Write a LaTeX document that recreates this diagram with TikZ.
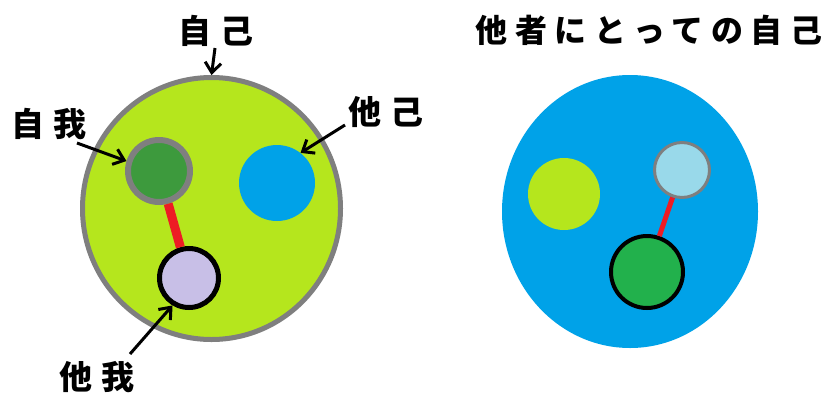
\documentclass[tikz,border=0pt]{standalone}
\usepackage{fontspec}
\newfontfamily\jpl{Noto Sans CJK JP}[LetterSpace=28]
\newfontfamily\jpt{Noto Sans CJK JP}[LetterSpace=24]
\usetikzlibrary{shapes.geometric,arrows.meta}
\definecolor{ygreen}{HTML}{B5E61D}
\definecolor{pgray}{HTML}{7F7F7F}
\definecolor{dgreen}{HTML}{3D9A3D}
\definecolor{pblue}{HTML}{00A2E8}
\definecolor{lav}{HTML}{C8BFE7}
\definecolor{lblue}{HTML}{99D9EA}
\definecolor{pgreen}{HTML}{22B14C}
\definecolor{pred}{HTML}{ED1C24}
\tikzset{
  lbl/.style={font=\jpl\bfseries\fontsize{33}{33}\selectfont, inner sep=0pt},
  ttl/.style={font=\jpt\bfseries\fontsize{32}{32}\selectfont, inner sep=0pt},
  dot/.style={circle, inner sep=0pt},
  pointer/.style={line width=3pt, -{Straight Barb[length=10pt,width=16pt,line width=3pt]}},
  link/.style={pred, line cap=butt}
}
\begin{document}
\begin{tikzpicture}[x=1pt,y=-1pt]
\useasboundingbox[fill=white] (0,0) rectangle (827,394);
% left
\node[ellipse, draw=pgray, line width=5pt, fill=ygreen, minimum width=258pt, minimum height=262pt, inner sep=0pt] (self) at (211.5,208.5) {};
\node[dot, draw=pgray, line width=6pt, fill=dgreen, minimum size=62pt] (jiga) at (159,171) {};
\node[dot, fill=pblue, minimum size=76pt] (tako) at (277,183) {};
\node[dot, draw=black, line width=5pt, fill=lav, minimum size=59pt] (taga) at (189,278) {};
\draw[link, line width=9pt] (jiga) -- (taga);
\node[lbl] (tJiko) at (216,31) {自己};
\node[lbl] (tJiga) at (49,124) {自我};
\node[lbl] (tTako) at (386,112) {他己};
\node[lbl] (tTaga) at (97,377) {他我};
\coordinate (p1) at (215,48);
\coordinate (p2) at (77,143);
\coordinate (p3) at (345,125);
\coordinate (p4) at (130,354);
\draw[pointer] (p1) -- (self.north);
\draw[pointer] (p2) -- (jiga.163);
\draw[pointer] (p3) -- (tako.52);
\draw[pointer] (p4) -- (taga.239);
% right
\node[ellipse, fill=pblue, minimum width=256pt, minimum height=273pt, inner sep=0pt] (other) at (630,211.5) {};
\node[dot, fill=ygreen, minimum size=72pt] (ry) at (564,194) {};
\node[dot, draw=pgray, line width=3pt, fill=lblue, minimum size=55pt] (rl) at (682,170) {};
\node[dot, draw=black, line width=4pt, fill=pgreen, minimum size=72pt] (rg) at (647,272) {};
\draw[link, line width=5pt] (rl) -- (rg);
\node[ttl] (title) at (649,30) {他者にとっての自己};
\end{tikzpicture}
\end{document}
